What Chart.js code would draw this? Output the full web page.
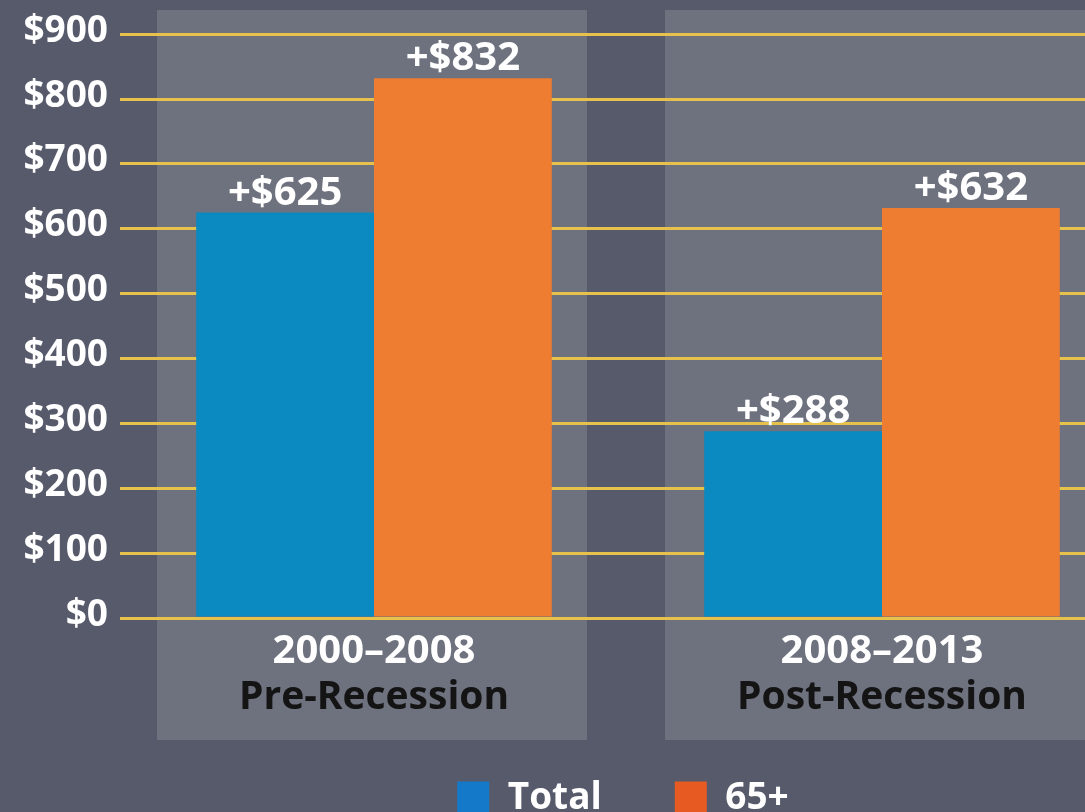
<!DOCTYPE html>
<html>
<head>
<meta charset="utf-8">
<script src="https://cdn.jsdelivr.net/npm/chart.js@4.4.1/dist/chart.umd.min.js"></script>
<style>
  html, body { margin: 0; padding: 0; background: #575a6b; overflow: hidden; }
  #wrap { width: 1140px; height: 840px; }
</style>
</head>
<body>
<div id="wrap"><canvas id="chart" width="1140" height="840"></canvas></div>
<script>
// values
const periods = ['2000–2008', '2008–2013'];
const phases = ['Pre-Recession', 'Post-Recession'];
const seriesNames = ['Total', '65+'];
const totalValues = [625, 288];
const olderValues = [832, 632];
const yTicks = [0, 100, 200, 300, 400, 500, 600, 700, 800, 900];

const BG = '#575a6b';
const PANEL = '#6e717e';
const GRID = '#e6c24c';
const BLUE = '#0a8ac0';
const ORANGE = '#ee7d32';
const LEGEND_COLORS = ['#1579c9', '#e75a22'];

Chart.defaults.font.family = "'Open Sans', sans-serif";
Chart.defaults.font.weight = 'bold';
Chart.defaults.color = '#ffffff';

// grey panels behind each period, and the "+$" labels on the bars
const panels = {
  id: 'panels',
  beforeDraw(chart) {
    const ctx = chart.ctx;
    const x = chart.scales.x;
    ctx.save();
    ctx.fillStyle = BG;
    ctx.fillRect(0, 0, chart.width, chart.height);
    ctx.fillStyle = PANEL;
    periods.forEach((p, i) => {
      const cx = x.getPixelForValue(i) - 2;
      ctx.fillRect(cx - 215, 10, 430, 730);
    });
    ctx.restore();
  },
  afterLayout(chart) {
    // legend sits a bit right of centre and a bit higher in the original
    chart.legend.left += 55;
    chart.legend.right += 55;
    chart.legend.top -= 13;
    chart.legend.bottom -= 13;
  },
  afterDatasetsDraw(chart) {
    const ctx = chart.ctx;
    ctx.save();
    ctx.font = "bold 40px 'Open Sans', sans-serif";
    ctx.fillStyle = '#ffffff';
    ctx.textAlign = 'center';
    ctx.textBaseline = 'alphabetic';
    chart.data.datasets.forEach((ds, di) => {
      chart.getDatasetMeta(di).data.forEach((bar, i) => {
        ctx.fillText('+$' + ds.data[i], bar.x, bar.y - 8);
      });
    });
    ctx.restore();
  }
};

new Chart(document.getElementById('chart'), {
  type: 'bar',
  data: {
    labels: periods,
    datasets: [
      { label: seriesNames[0], data: totalValues, backgroundColor: BLUE },
      { label: seriesNames[1], data: olderValues, backgroundColor: ORANGE }
    ]
  },
  options: {
    responsive: false,
    animation: false,
    layout: { padding: { top: 33, right: 4, left: 0, bottom: 0 } },
    categoryPercentage: 0.7,
    barPercentage: 1.0,
    plugins: {
      tooltip: { enabled: false },
      legend: {
        position: 'bottom',
        labels: {
          boxWidth: 32,
          boxHeight: 34,
          padding: 73,
          color: '#ffffff',
          font: { size: 37, weight: 'bold' },
          generateLabels(chart) {
            return seriesNames.map((name, i) => ({
              text: name,
              fillStyle: LEGEND_COLORS[i],
              strokeStyle: LEGEND_COLORS[i],
              lineWidth: 0,
              fontColor: '#ffffff',
              datasetIndex: i
            }));
          }
        }
      }
    },
    scales: {
      y: {
        min: 0,
        max: 900,
        afterBuildTicks(scale) {
          scale.ticks = yTicks.map(v => ({ value: v }));
        },
        afterFit(scale) { scale.width = 120; },
        ticks: {
          padding: 12,
          labelOffset: -3,
          color: '#ffffff',
          font: { size: 37, weight: 'bold' },
          callback: v => '$' + v
        },
        grid: { color: GRID, lineWidth: 3, drawTicks: false },
        border: { display: false }
      },
      x: {
        offset: true,
        afterFit(scale) { scale.height = 46; },
        grid: { display: false, drawTicks: false },
        border: { display: false },
        ticks: { padding: 10, color: '#ffffff', font: { size: 40, weight: 'bold' } }
      },
      x2: {
        type: 'category',
        position: 'bottom',
        labels: phases,
        offset: true,
        afterFit(scale) { scale.height = 56; },
        grid: { display: false, drawTicks: false },
        border: { display: false },
        ticks: { padding: 10, color: '#141414', font: { size: 39, weight: 'bold' } }
      }
    }
  },
  plugins: [panels]
});
</script>
</body>
</html>
